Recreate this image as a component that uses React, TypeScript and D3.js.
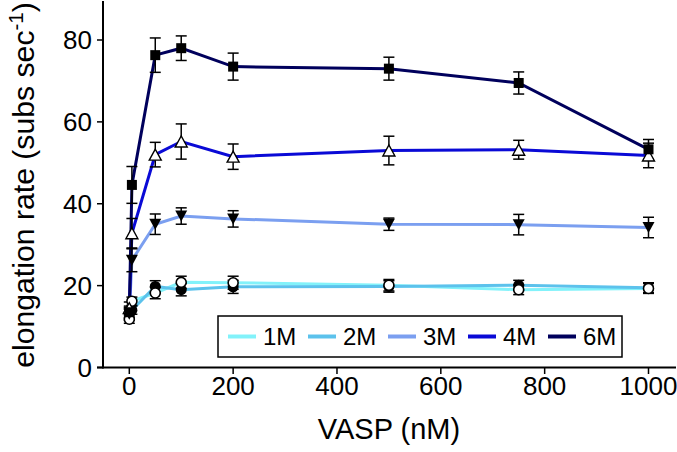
import React from "react";
import * as d3 from "d3";

const vasp = [0, 5, 50, 100, 200, 500, 750, 1000];
const seriesNames = ["1M", "2M", "3M", "4M", "6M"];
const rate1M = [11.8, 16.2, 18.2, 20.8, 20.7, 20.1, 19.0, 19.3];
const err1M = [1.0, 1.0, 1.4, 1.5, 1.6, 1.4, 1.2, 1.2];
const rate2M = [13.5, 14.0, 19.8, 19.0, 19.7, 19.8, 20.1, 19.5];
const err2M = [1.2, 1.0, 1.4, 1.5, 1.6, 1.4, 1.2, 1.2];
const rate3M = [13.0, 26.2, 35.0, 37.0, 36.3, 35.0, 34.9, 34.2];
const err3M = [1.5, 2.8, 2.5, 2.0, 2.0, 1.5, 2.5, 2.5];
const rate4M = [14.5, 32.8, 52.0, 55.2, 51.5, 53.0, 53.2, 51.8];
const err4M = [1.5, 3.6, 3.0, 4.3, 3.1, 3.5, 2.3, 3.0];
const rate6M = [13.5, 44.6, 76.3, 78.0, 73.5, 73.0, 69.5, 53.3];
const err6M = [1.5, 4.5, 4.2, 3.0, 3.3, 2.8, 2.7, 2.4];
const colors = ["#82f2fa", "#5cc2ec", "#7b9ff0", "#0a0ad6", "#00005c"];
const markers = ["circleOpen", "circleFilled", "triDown", "triOpen", "square"];
const xTicks = [0, 200, 400, 600, 800, 1000];
const yTicks = [0, 20, 40, 60, 80];

const rates = [rate1M, rate2M, rate3M, rate4M, rate6M];
const errs = [err1M, err2M, err3M, err4M, err6M];

const FONT = "'Liberation Sans', Arial, sans-serif";

function Marker({ type, cx, cy }: { type: string; cx: number; cy: number }) {
  if (type === "square") {
    const s = 10;
    return <rect x={cx - s / 2} y={cy - s / 2} width={s} height={s} fill="#000" />;
  }
  if (type === "circleOpen") {
    return <circle cx={cx} cy={cy} r={5} fill="#fff" stroke="#000" strokeWidth={1.6} />;
  }
  if (type === "circleFilled") {
    return <circle cx={cx} cy={cy} r={5.5} fill="#000" />;
  }
  if (type === "triDown") {
    const h = 11, w = 12;
    const p = `${cx - w / 2},${cy - h / 2} ${cx + w / 2},${cy - h / 2} ${cx},${cy + h / 2}`;
    return <polygon points={p} fill="#000" />;
  }
  const h = 11, w = 12;
  const p = `${cx - w / 2},${cy + h / 2} ${cx + w / 2},${cy + h / 2} ${cx},${cy - h / 2}`;
  return <polygon points={p} fill="#fff" stroke="#000" strokeWidth={1.4} />;
}

export default function App() {
  const W = 677, H = 452;
  const x = d3.scaleLinear().domain([0, 1000]).range([129.3, 648.5]);
  const y = d3.scaleLinear().domain([0, 80]).range([367.5, 40]);
  const axisX = 103;
  const line = d3
    .line<number>()
    .x((_, i) => x(vasp[i]))
    .y((d) => y(d));

  const legendX = 218, legendY = 316, legendW = 404, legendH = 41;
  const cap = 5.5;

  return (
    <svg width={W} height={H} style={{ position: "absolute", left: 0, top: 0 }}>
      <rect width={W} height={H} fill="#fff" />
      {rates.map((r, si) => (
        <path key={"l" + si} d={line(r) || ""} fill="none" stroke={colors[si]} strokeWidth={3} />
      ))}
      {rates.map((r, si) =>
        r.map((v, i) => {
          const cx = x(vasp[i]);
          const y1 = y(v + errs[si][i]);
          const y2 = y(v - errs[si][i]);
          return (
            <g key={`e${si}-${i}`} stroke="#000" strokeWidth={1.5}>
              <line x1={cx} x2={cx} y1={y1} y2={y2} />
              <line x1={cx - cap} x2={cx + cap} y1={y1} y2={y1} />
              <line x1={cx - cap} x2={cx + cap} y1={y2} y2={y2} />
            </g>
          );
        })
      )}
      {[1, 0, 2, 3, 4].map((si) =>
        rates[si].map((v, i) => (
          <Marker key={`m${si}-${i}`} type={markers[si]} cx={x(vasp[i])} cy={y(v)} />
        ))
      )}
      <line x1={axisX} x2={axisX} y1={1} y2={368.5} stroke="#000" strokeWidth={2} />
      <line x1={97} x2={676} y1={367.5} y2={367.5} stroke="#000" strokeWidth={2} />
      {yTicks.map((t) => (
        <g key={"yt" + t}>
          <line x1={axisX - 6} x2={axisX} y1={y(t)} y2={y(t)} stroke="#000" strokeWidth={1.5} />
          <text x={92} y={y(t)} dy="0.36em" textAnchor="end" fontFamily={FONT} fontSize={26} fill="#000">
            {t}
          </text>
        </g>
      ))}
      {xTicks.map((t) => (
        <g key={"xt" + t}>
          <line x1={x(t)} x2={x(t)} y1={367.5} y2={374} stroke="#000" strokeWidth={1.5} />
          <text x={x(t)} y={395} textAnchor="middle" fontFamily={FONT} fontSize={26} fill="#000">
            {t}
          </text>
        </g>
      ))}
      <text x={389} y={439} textAnchor="middle" fontFamily={FONT} fontSize={29} fill="#000">
        VASP (nM)
      </text>
      <text
        transform="translate(34,185) rotate(-90)"
        textAnchor="middle"
        fontFamily={FONT}
        fontSize={30.2}
        fill="#000"
      >
        elongation rate (subs sec
        <tspan fontSize={20.5} dy={-11}>-1</tspan>
        <tspan dy={11}>)</tspan>
      </text>
      <rect x={legendX} y={legendY} width={legendW} height={legendH} fill="#fff" stroke="#000" strokeWidth={1.5} />
      {seriesNames.map((n, i) => {
        const lx = legendX + 10 + i * 80;
        const cy = legendY + legendH / 2;
        return (
          <g key={"lg" + n}>
            <line x1={lx} x2={lx + 28} y1={cy} y2={cy} stroke={colors[i]} strokeWidth={4} />
            <text x={lx + 35} y={cy} dy="0.36em" fontFamily={FONT} fontSize={24} fill="#000">
              {n}
            </text>
          </g>
        );
      })}
    </svg>
  );
}
